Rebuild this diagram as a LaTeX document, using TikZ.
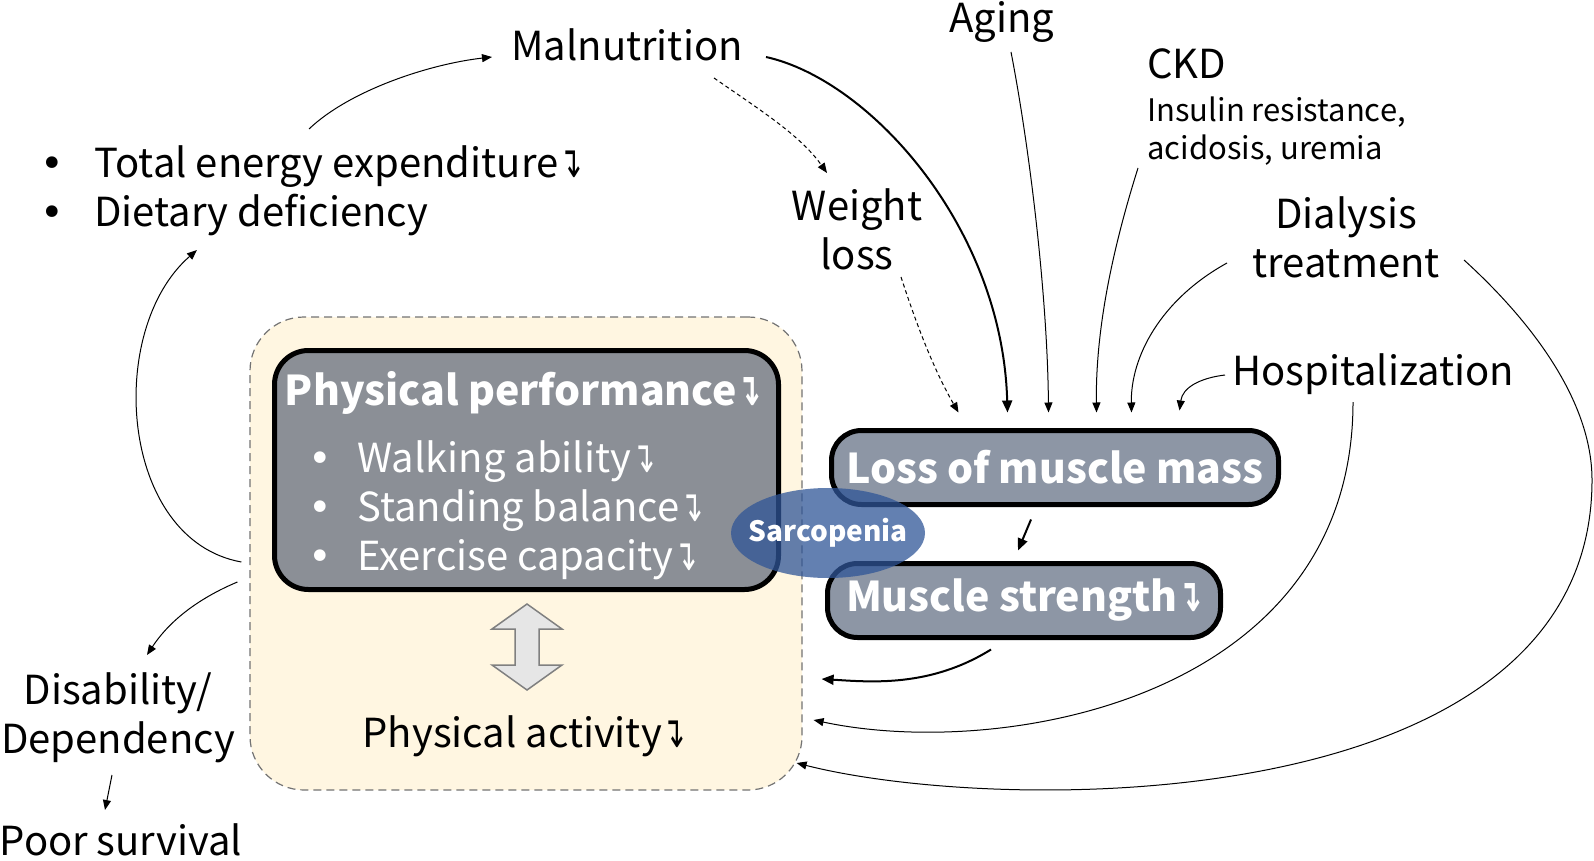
\documentclass[tikz,border=0pt]{standalone}
\usepackage{fontspec}
\setmainfont{Noto Sans CJK JP}
\newfontfamily\arrowfont{DejaVu Sans}
\usetikzlibrary{arrows.meta,shapes.geometric}

\newlength{\du}
\setlength{\du}{0.5pt}

\newcommand{\dnhook}{\hspace{0.02em}\scalebox{0.68}[1.1]{\arrowfont\char"21B4}}
\newcommand{\bul}{\makebox[27pt][l]{\arrowfont\textbullet}}
\newcommand{\ppbul}{\makebox[27.5pt][l]{\arrowfont\hspace{3pt}\textbullet}}

\definecolor{creamfill}{RGB}{255,246,225}
\definecolor{ppgray}{RGB}{139,143,150}
\definecolor{musclegray}{RGB}{141,150,165}
\definecolor{sarcoblue}{RGB}{47,85,151}
\definecolor{twingray}{RGB}{230,230,230}

\tikzset{
  lbl/.style={inner sep=0pt, align=center, font=\fontsize{20pt}{24.5pt}\selectfont},
  sublbl/.style={inner sep=0pt, align=left, font=\fontsize{15.5pt}{19pt}\selectfont},
  darkbox/.style={draw=black, line width=2.5pt, rounded corners=15pt, inner sep=0pt,
    text=white, font=\bfseries\fontsize{20.5pt}{24pt}\selectfont},
  link/.style={line width=0.5pt, -{Triangle[length=5pt,width=4pt]}},
  boldlink/.style={line width=1pt, -{Triangle[length=6pt,width=5pt]}},
  dotlink/.style={line width=0.5pt, dash pattern=on 2pt off 1.5pt, -{Triangle[length=5pt,width=4pt]}},
}

\begin{document}
\begin{tikzpicture}
\pgftransformxscale{1.000000}
\pgftransformyscale{-1.000000}
\pgfsetmiterjoin
\useasboundingbox (0\du,0\du) rectangle (1594\du,861\du);

% performance region
\node[draw=black!55, fill=creamfill, dash pattern=on 4pt off 2.5pt, line width=0.6pt,
  rounded corners=27pt, minimum width=552\du, minimum height=473\du, inner sep=0pt] (region) at (526\du,553.5\du) {};
\node[darkbox, fill=ppgray, minimum width=504\du, minimum height=239\du, rounded corners=17pt] (pp) at (526.5\du,470\du) {};
\node[darkbox, draw=none, fill=none, anchor=base] (pptitle) at (523\du,405\du) {Physical performance\dnhook};
\node[lbl, text=white, align=left, anchor=north west] (ppitems) at (302\du,440\du)
  {\ppbul Walking ability\dnhook\\\ppbul Standing balance\dnhook\\\ppbul Exercise capacity\dnhook};
\draw[draw=black!50, fill=twingray, line width=0.75pt]
  (527\du,604\du)--(562\du,629\du)--(539\du,629\du)--(539\du,665\du)--(562\du,665\du)
  --(527\du,690\du)--(492\du,665\du)--(515\du,665\du)--(515\du,629\du)--(492\du,629\du)--cycle;
\node[lbl, anchor=base] (act) at (524\du,747\du) {Physical activity\dnhook};

% muscle boxes
\node[darkbox, fill=musclegray, minimum width=447\du, minimum height=74\du] (lmm) at (1055\du,467.5\du) {Loss of muscle mass};
\node[darkbox, fill=musclegray, minimum width=393\du, minimum height=74\du] (ms) at (1024\du,600.5\du) {Muscle strength\dnhook};
\node[ellipse, fill=sarcoblue, fill opacity=0.75, inner sep=0pt,
  minimum width=194\du, minimum height=90\du] (sarc) at (828\du,533\du) {};
\node[inner sep=0pt, text=white, font=\bfseries\fontsize{14pt}{16pt}\selectfont] (sarctxt) at (sarc.center) {Sarcopenia};

% labels
\node[lbl, anchor=base] (mal) at (627\du,61\du) {Malnutrition};
\node[lbl, align=left, anchor=north west] (tot) at (40\du,145\du)
  {\bul Total energy expenditure\dnhook\\\bul Dietary deficiency};
\node[lbl, anchor=base] (aging) at (1002\du,33\du) {Aging};
\node[lbl, anchor=base west] (ckd) at (1147\du,79\du) {CKD};
\node[sublbl, anchor=north west] (ckdsub) at (1147\du,96\du) {Insulin resistance,\\acidosis, uremia};
\node[lbl] (weight) at (857\du,229\du) {Weight\\loss};
\node[lbl] (dial) at (1346\du,237.5\du) {Dialysis\\treatment};
\node[lbl, anchor=base] (hosp) at (1373\du,385\du) {Hospitalization};
\node[lbl] (dis) at (118\du,717.5\du) {Disability/\\Dependency};
\node[lbl, anchor=base] (poor) at (121\du,855\du) {Poor survival};

% connectors
\draw[link] ([xshift=269\du,yshift=-16\du]tot.north west) .. controls +(41\du,-39\du) and +(-62\du,7\du) .. ([xshift=-135\du,yshift=-4\du]mal.base);
\draw[link] ([xshift=-8\du,yshift=8.5\du]region.west) .. controls +(-122\du,-22\du) and +(-92\du,80\du) .. ([xshift=157\du,yshift=105\du]tot.north west);
\draw[link] ([xshift=-12\du,yshift=28.5\du]region.west) .. controls +(-38\du,16\du) and +(23\du,-35\du) .. ([xshift=29\du,yshift=-62.5\du]dis.center);
\draw[link] ([xshift=-6\du,yshift=57.5\du]dis.center) -- ([xshift=-16\du,yshift=-45\du]poor.base);
\draw[dotlink] ([xshift=87\du,yshift=17\du]mal.base) .. controls +(46\du,32\du) and +(-27\du,-38\du) .. ([xshift=-30\du,yshift=-56\du]weight.center);
\draw[dotlink] ([xshift=44\du,yshift=48\du]weight.center) .. controls +(14\du,43\du) and +(-26\du,-45\du) .. ([xshift=129.5\du,yshift=-15.5\du]lmm.north west);
\draw[boldlink] ([xshift=139\du,yshift=-4\du]mal.base) .. controls +(104\du,23\du) and +(-5\du,-185\du) .. ([xshift=178.5\du,yshift=-15.5\du]lmm.north west);
\draw[link] ([xshift=9\du,yshift=19\du]aging.base) .. controls +(19\du,98\du) and +(-1\du,-115\du) .. ([xshift=219.5\du,yshift=-15.5\du]lmm.north west);
\draw[link] ([xshift=-9\du,yshift=72\du]ckdsub.north west) .. controls +(-29\du,92\du) and +(-1\du,-75\du) .. ([xshift=267.5\du,yshift=-15.5\du]lmm.north west);
\draw[link] ([xshift=-119\du,yshift=25.5\du]dial.center) .. controls +(-67\du,37\du) and +(-1\du,-55\du) .. ([xshift=302.5\du,yshift=-15.5\du]lmm.north west);
\draw[link] ([xshift=-148\du,yshift=-10\du]hosp.base) .. controls +(-25\du,3\du) and +(3\du,-23\du) .. ([xshift=350.5\du,yshift=-17.5\du]lmm.north west);
\draw[boldlink] ([xshift=-24\du,yshift=12.5\du]lmm.south) -- ([xshift=-6\du,yshift=-10.5\du]ms.north);
\draw[boldlink] ([xshift=-33\du,yshift=9.5\du]ms.south) .. controls +(-61\du,38\du) and +(49\du,3\du) .. ([xshift=19\du,yshift=125.5\du]region.east);
\draw[link] ([xshift=-20\du,yshift=17\du]hosp.base) .. controls +(0\du,298\du) and +(187\du,40\du) .. ([xshift=11\du,yshift=166.5\du]region.east);
\draw[link] ([xshift=118\du,yshift=22.5\du]dial.center) .. controls +(66\du,60\du) and +(0\du,-80\du) .. ++(128\du,220\du)
  .. controls +(0\du,340\du) and +(204\du,52\du) .. ([xshift=-6\du,yshift=209.5\du]region.east);
\end{tikzpicture}
\end{document}
